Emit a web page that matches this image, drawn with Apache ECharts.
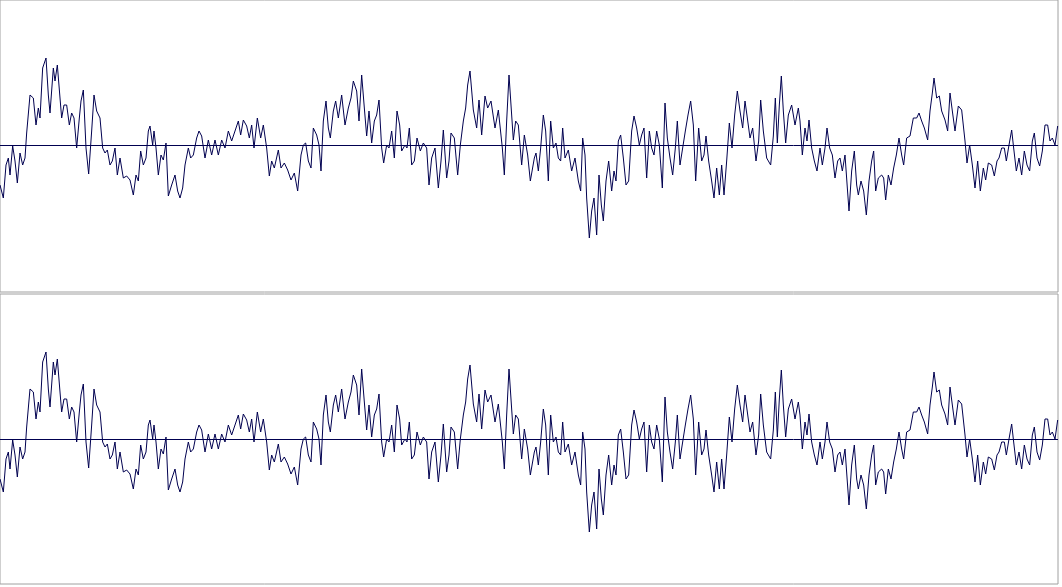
<!DOCTYPE html>
<html><head><meta charset="utf-8">
<script src="https://cdn.jsdelivr.net/npm/echarts@6/dist/echarts.min.js"></script>
<style>html,body{margin:0;padding:0;background:#fff}#c{width:1062px;height:587px}</style>
</head><body><div id="c"></div>
<script>
// sample positions (in 1/3-pixel time ticks within each segment) and amplitudes
const seg1T=[0,10,18,25,30,38,45,52,60,68,75,80,90,100,108,115,120,128,138,145,150,160,165,172,180,185,192,200,208,215,222,230,238,243,250,258,266,275,282,290,300,308,315,322,330,337,345,352,360,370,380,390,400,408,415,422,430,438,445,450,458,462,468,475,483,490,498,505,515,525,533,540,548,555,565,572,580,590,597,605,615,625,635,645,655,665,675,685,695,705,715,722,730,740,748,755,762,772,782,790,800,808];
const seg1V=[-40,-53,-20,-13,-30,-1,-16,-38,-8,-20,-13,12,50,47,20,37,27,77,87,50,32,77,64,80,47,27,40,40,20,32,27,-3,27,44,55,-3,-29,14,50,34,27,-3,-8,-5,-20,-16,-3,-30,-13,-33,-31,-35,-50,-30,-36,-6,-20,-13,14,19,0,14,-3,-30,-10,-15,2,-51,-40,-30,-46,-53,-43,-20,-3,-13,-10,7,14,9,-13,5,-10,5,-10,5,-3,14,4,14,24,10,25,19,7,20,-3,27,7,20,-3,-31];
const seg2T=[20,28,40,48,58,68,78,88,98,108,115,122,130,138,145,155,162,168,175,183,190,196,205,212,220,230,240,250,258,265,275,282,290,298,305,312,320,328,335,342,350,356,365,372,380,388,396,404,410,420,426,433,440,448,456,466,475,485,492,500,510,520,528,535,545,552,558,568,578,586,595,602,608,615,625,635,642,650,660,668,678,690,700,712,718,725,732,740,745,752,760,770,778,788,796,808];
const seg2V=[-16,-23,-5,-23,-18,-25,-35,-28,-46,-10,0,2,-16,-23,17,10,0,-26,24,44,17,7,34,44,27,50,20,37,47,64,54,24,70,37,9,34,2,24,30,45,-3,-18,0,-3,14,-13,34,20,-6,0,-3,17,-20,-16,7,-6,2,-3,-40,-13,-3,-43,-16,15,-33,-16,12,7,-30,0,24,37,60,74,35,17,45,10,49,37,44,17,35,-3,-30,24,70,30,5,24,20,-20,10,-10,-36,-13];
const seg3T=[18,25,32,40,47,55,62,70,78,85,92,98,105,115,125,135,145,152,158,165,170,178,185,192,200,207,214,220,228,236,245,252,258,265,272,280,288,296,305,312,320,328,335,342,350,358,365,372,380,388,397,405,412,420,428,436,442,450,458,466,474,482,490,497,506,515,522,528,536,545,552,560,568,575,582,590,598,606,614,622,630,638,645,652,660,668,678,686,692,700,710,722,730,736,742,748,754,760,767,775,785,795,805];
const seg3V=[-8,-26,-3,30,14,-36,24,-3,2,-13,-16,17,-13,-5,-26,-13,-36,-46,7,-10,-53,-93,-66,-53,-90,-30,-60,-76,-36,-16,-46,-26,-36,4,10,-13,-40,-36,14,29,17,0,10,17,-33,14,-3,-10,14,0,-43,42,7,-13,-30,-3,24,-20,-3,14,30,44,20,-36,17,-16,-10,9,-16,-36,-53,-23,-50,-20,-50,-16,22,-3,30,54,34,17,44,27,7,17,-16,4,45,14,-13,-20,9,47,2,40,69,34,2,30,40,20,37];
const seg4T=[15,22,30,36,42,50,58,66,75,82,90,96,104,112,120,128,135,142,150,157,162,170,178,185,190,198,206,214,222,230,236,242,250,260,266,272,280,288,296,304,312,320,326,335,345,355,365,372,380,388,398,405,412,417,425,433,440,450,458,465,472,480,490,500,510,516,524,532,540,548,556,565,572,580,590,598,606,612,620,628,634,642,650,656,664,672,680,688,696,704,712,718,726,734,742,750,758,765,772,780,788];
const seg4V=[24,-10,17,4,25,-3,-16,-26,-3,-20,-3,17,-3,-10,-33,-16,-13,-26,-10,-43,-66,-26,-6,-40,-50,-36,-46,-70,-36,-16,-6,-46,-33,-30,-33,-55,-30,-40,-23,-10,7,-10,-20,7,9,27,27,32,24,17,5,34,52,67,47,49,34,25,14,52,34,14,39,35,4,-18,0,-20,-43,-16,-46,-23,-35,-18,-20,-31,-16,-13,-3,-3,-16,0,15,-3,-26,-13,-30,-6,-20,-26,4,12,-13,-21,-6,20,20,4,7,0,19];
const segOffsets=[0,795,1590,2385];

const segs=[[seg1T,seg1V],[seg2T,seg2V],[seg3T,seg3V],[seg4T,seg4V]];
const data=[];
segs.forEach((s,i)=>s[0].forEach((t,j)=>data.push([t+segOffsets[i],s[1][j]])));
data.sort((a,b)=>a[0]-b[0]);

const chart=echarts.init(document.getElementById('c'));
const navy='#000050';
const xa=i=>({type:'value',gridIndex:i,min:0,max:3174,show:false});
const ya=(i,mn,mx)=>({type:'value',gridIndex:i,min:mn,max:mx,show:false});
const ser=i=>({type:'line',xAxisIndex:i,yAxisIndex:i,data:data,showSymbol:false,symbol:'none',
  lineStyle:{color:navy,width:1},animation:false,
  markLine:{silent:true,symbol:'none',label:{show:false},lineStyle:{color:navy,width:1,type:'solid'},data:[{yAxis:0}]}});
chart.setOption({
  animation:false,
  grid:[
    {left:0,top:0,width:1058,height:292,show:true,borderColor:'#a0a0a0',borderWidth:1,backgroundColor:'#fff'},
    {left:0,top:294,width:1058,height:290,show:true,borderColor:'#a0a0a0',borderWidth:1,backgroundColor:'#fff'}
  ],
  xAxis:[xa(0),xa(1)],
  yAxis:[ya(0,-147,145),ya(1,-145,145)],
  series:[ser(0),ser(1)]
});
</script></body></html>
